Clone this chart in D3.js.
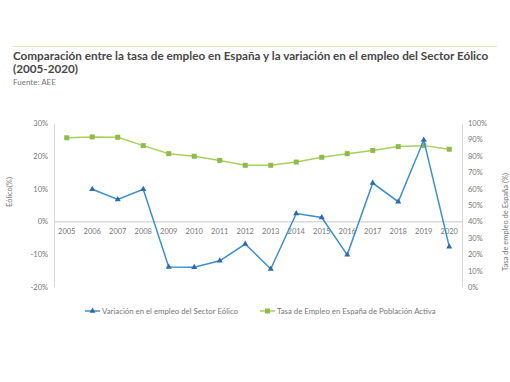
<!DOCTYPE html>
<html>
<head>
<meta charset="utf-8">
<script src="https://cdn.jsdelivr.net/npm/d3@7"></script>
<style>
  body { margin: 0; background: #fff; }
  text { font-family: Lato, "Open Sans", sans-serif; }
</style>
</head>
<body>
<div id="wrapper"></div>
<script>
const years = ["2005", "2006", "2007", "2008", "2009", "2010", "2011", "2012",
    "2013", "2014", "2015", "2016", "2017", "2018", "2019", "2020"]
// variación del empleo eólico (%), eje izquierdo; 2005 sin dato
const eolico = [null, 9.8, 6.7, 9.8, -13.9, -14.0, -12.0, -6.9,
    -14.5, 2.4, 1.2, -10.2, 11.7, 6.0, 24.8, -7.7]
// tasa de empleo España (%), eje derecho
const tasa = [91.0, 91.5, 91.3, 86.2, 81.3, 79.7, 77.2, 74.2,
    74.2, 76.2, 79.1, 81.3, 83.3, 85.6, 86.2, 84.0]
const leftTicks = [-20, -10, 0, 10, 20, 30]
const rightTicks = [0, 10, 20, 30, 40, 50, 60, 70, 80, 90, 100]

const width = 510
const height = 382
let dimensions = {
    margin: { top: 123, left: 54, right: 48, bottom: 95 },
}
dimensions.boundedWidth = width - dimensions.margin.left - dimensions.margin.right
dimensions.boundedHeight = height - dimensions.margin.top - dimensions.margin.bottom

const svg = d3.select("#wrapper")
    .append("svg")
    .attr("width", width)
    .attr("height", height)

// header
svg.append("line")
    .attr("x1", 13).attr("x2", 497)
    .attr("y1", 46.5).attr("y2", 46.5)
    .attr("stroke", "#dde8b8")
    .attr("stroke-width", 1)

svg.append("text")
    .attr("x", 13).attr("y", 60)
    .attr("font-size", "11.7px")
    .attr("font-weight", "bold")
    .attr("fill", "#474747")
    .text("Comparación entre la tasa de empleo en España y la variación en el empleo del Sector Eólico")
svg.append("text")
    .attr("x", 13).attr("y", 73)
    .attr("font-size", "11.7px")
    .attr("font-weight", "bold")
    .attr("fill", "#474747")
    .text("(2005-2020)")
svg.append("text")
    .attr("x", 13).attr("y", 85)
    .attr("font-size", "8px")
    .attr("fill", "#777")
    .text("Fuente: AEE")

const bounds = svg.append("g")
    .attr("transform", `translate(${dimensions.margin.left},${dimensions.margin.top})`)

const xScaler = d3.scaleBand()
    .domain(years)
    .range([0, dimensions.boundedWidth])

const yLeft = d3.scaleLinear()
    .domain([-20, 30])
    .range([dimensions.boundedHeight, 0])

const yRight = d3.scaleLinear()
    .domain([0, 100])
    .range([dimensions.boundedHeight, 0])

const xMid = d => xScaler(d) + xScaler.bandwidth() / 2

// axes
const leftAxis = bounds.append("g")
    .call(d3.axisLeft(yLeft).tickValues(leftTicks).tickSize(0).tickPadding(6).tickFormat(d => d + "%"))
leftAxis.select(".domain").attr("stroke", "#d9d9d9")

const rightAxis = bounds.append("g")
    .attr("transform", `translate(${dimensions.boundedWidth},0)`)
    .call(d3.axisRight(yRight).tickValues(rightTicks).tickSize(0).tickPadding(6).tickFormat(d => d + "%"))
rightAxis.select(".domain").attr("stroke", "#d9d9d9")

const xAxis = bounds.append("g")
    .attr("transform", `translate(0,${yLeft(0)})`)
    .call(d3.axisBottom(xScaler).tickSize(0).tickPadding(7))
xAxis.select(".domain").attr("stroke", "#c8c8c8")

bounds.selectAll(".tick text")
    .attr("fill", "#777")
    .attr("font-size", "7.5px")
    .style("font-family", "Lato, sans-serif")

// axis titles
svg.append("text")
    .attr("transform", `translate(12,192) rotate(-90)`)
    .attr("text-anchor", "middle")
    .attr("font-size", "7.5px")
    .attr("fill", "#777")
    .text("Eólico(%)")

svg.append("text")
    .attr("transform", `translate(507.5,222) rotate(-90)`)
    .attr("text-anchor", "middle")
    .attr("font-size", "7.5px")
    .attr("fill", "#777")
    .text("Tasa de empleo de España (%)")

// lines
const blue = "#3b8fd1"
const blueDark = "#2f6cab"
const green = "#a9d05d"
const greenDark = "#8fbb48"

const eolicoData = years.map((y, i) => ({ year: y, value: eolico[i] })).filter(d => d.value !== null)
const tasaData = years.map((y, i) => ({ year: y, value: tasa[i] }))

bounds.append("path")
    .datum(tasaData)
    .attr("fill", "none")
    .attr("stroke", green)
    .attr("stroke-width", 1.5)
    .attr("d", d3.line().x(d => xMid(d.year)).y(d => yRight(d.value)))

bounds.selectAll(".sq")
    .data(tasaData)
    .enter()
    .append("rect")
    .attr("x", d => xMid(d.year) - 2.5)
    .attr("y", d => yRight(d.value) - 2.5)
    .attr("width", 5)
    .attr("height", 5)
    .attr("fill", greenDark)

bounds.append("path")
    .datum(eolicoData)
    .attr("fill", "none")
    .attr("stroke", blue)
    .attr("stroke-width", 1.5)
    .attr("d", d3.line().x(d => xMid(d.year)).y(d => yLeft(d.value)))

const tri = d3.symbol().type(d3.symbolTriangle).size(16)
bounds.selectAll(".tri")
    .data(eolicoData)
    .enter()
    .append("path")
    .attr("d", tri)
    .attr("transform", d => `translate(${xMid(d.year)},${yLeft(d.value)})`)
    .attr("fill", blueDark)

// legend
const legend = svg.append("g").attr("transform", "translate(0,311)")
const items = [
    { label: "Variación en el empleo del Sector Eólico", x: 85, color: blue, mark: blueDark, shape: "tri" },
    { label: "Tasa de Empleo en España de Población Activa", x: 260, color: green, mark: greenDark, shape: "sq" },
]
items.forEach(it => {
    legend.append("line")
        .attr("x1", it.x).attr("x2", it.x + 15)
        .attr("y1", 0).attr("y2", 0)
        .attr("stroke", it.color)
        .attr("stroke-width", 1.5)
    if (it.shape === "tri") {
        legend.append("path")
            .attr("d", tri)
            .attr("transform", `translate(${it.x + 7.5},0)`)
            .attr("fill", it.mark)
    } else {
        legend.append("rect")
            .attr("x", it.x + 5).attr("y", -2.5)
            .attr("width", 5).attr("height", 5)
            .attr("fill", it.mark)
    }
    legend.append("text")
        .attr("x", it.x + 17)
        .attr("y", 2.5)
        .attr("font-size", "7.8px")
        .attr("fill", "#777")
        .text(it.label)
})
</script>
</body>
</html>
